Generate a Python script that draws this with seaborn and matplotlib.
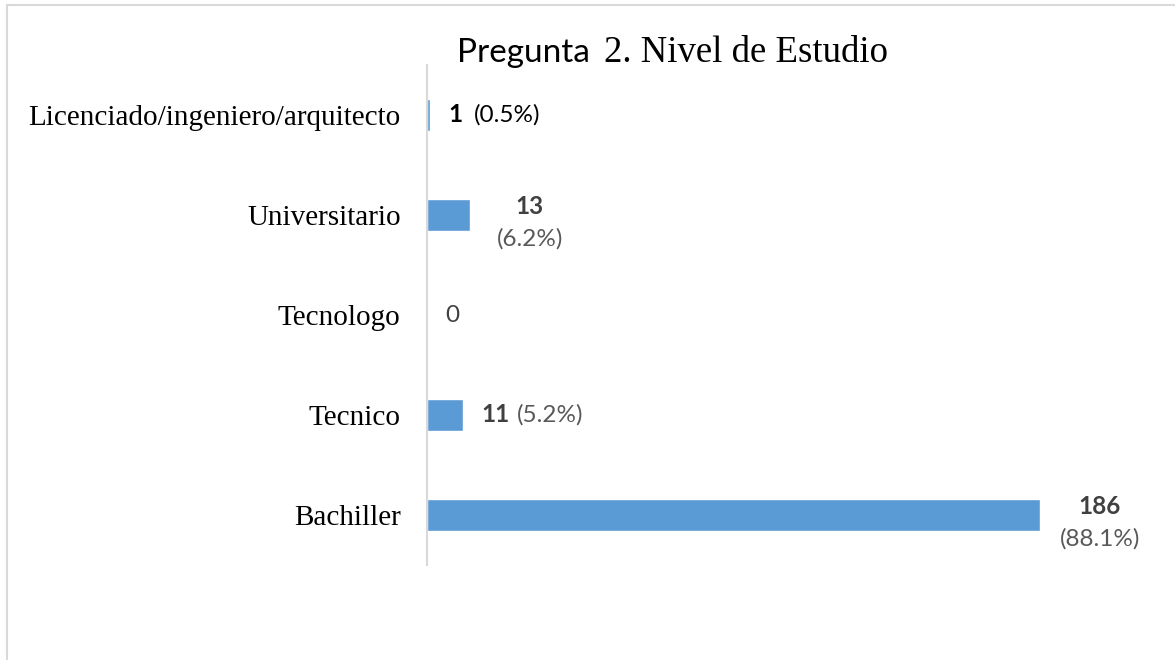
import numpy as np
import pandas as pd
import seaborn as sns
import matplotlib.pyplot as plt
from matplotlib.lines import Line2D

categorias = ['Licenciado/ingeniero/arquitecto', 'Universitario', 'Tecnologo', 'Tecnico', 'Bachiller']
cantidades = [1, 13, 0, 11, 186]
porcentajes = ['(0.5%)', '(6.2%)', None, '(5.2%)', '(88.1%)']
dos_lineas = [False, True, False, False, True]

BAR = '#5B9BD5'
SANS = ['Lato', 'DejaVu Sans']
SERIF = ['Liberation Serif', 'DejaVu Serif']


def make_plot():
    df = pd.DataFrame({'nivel': categorias, 'n': cantidades})

    sns.set_style('white')
    fig = plt.figure(figsize=(11.75, 6.6), dpi=100)
    ax = fig.add_axes([427 / 1175, 1 - 565 / 660, 1 - 427 / 1175, 500 / 660])

    sns.barplot(data=df, x='n', y='nivel', order=categorias, color=BAR,
                width=0.32, saturation=1, ax=ax)

    # scale: 186 -> 613 px, axes width 748 px
    ax.set_xlim(0, 186 * 748 / 613)
    ax.set_ylim(4.5, -0.5)
    ax.set_xlabel('')
    ax.set_ylabel('')
    ax.set_xticks([])
    ax.tick_params(axis='y', length=0, pad=19)
    ax.set_yticks(range(len(categorias)))
    ax.set_yticklabels(categorias, family=SERIF, fontsize=21, color='black')

    for s in ['top', 'right', 'bottom']:
        ax.spines[s].set_visible(False)
    ax.spines['left'].set_color('#D9D9D9')
    ax.spines['left'].set_linewidth(1.5)

    # data labels
    fs = 17.5
    for i, (n, pct, two) in enumerate(zip(cantidades, porcentajes, dos_lineas)):
        col = 'black' if n == 1 else '#404040'
        if two:
            ax.annotate(str(n), xy=(n, i), xytext=(43, 6), textcoords='offset points',
                        ha='center', va='center', family=SANS, fontsize=fs,
                        fontweight='bold', color='#404040')
            ax.annotate(pct, xy=(n, i), xytext=(43, -17), textcoords='offset points',
                        ha='center', va='center', family=SANS, fontsize=fs,
                        color='#595959')
        else:
            t = ax.annotate(str(n), xy=(n, i), xytext=(13, 0), textcoords='offset points',
                            ha='left', va='center', family=SANS, fontsize=fs,
                            fontweight='bold' if pct else 'normal',
                            color=col if pct else '#404040')
            if pct:
                gap = 8 if n == 1 else 5
                ax.annotate(pct, xy=(1, 0.5), xycoords=t, xytext=(gap, 0),
                            textcoords='offset points', ha='left', va='center',
                            family=SANS, fontsize=fs,
                            color='black' if n == 1 else '#595959')

    # title: mixed fonts
    fig.text(590 / 1175, 1 - 62 / 660, 'Pregunta', family=SANS, fontsize=24,
             ha='right', va='baseline', color='black')
    fig.text(604 / 1175, 1 - 62 / 660, '2. Nivel de Estudio', family=SERIF, fontsize=26.5,
             ha='left', va='baseline', color='black')

    # outer frame (cut at right and bottom)
    fig.add_artist(Line2D([7 / 1175, 7 / 1175], [0, 1 - 5 / 660],
                          transform=fig.transFigure, color='#D9D9D9', lw=1.5))
    fig.add_artist(Line2D([7 / 1175, 1], [1 - 5 / 660, 1 - 5 / 660],
                          transform=fig.transFigure, color='#D9D9D9', lw=1.5))

    fig.savefig('out.png', dpi=100, facecolor='white')


make_plot()
